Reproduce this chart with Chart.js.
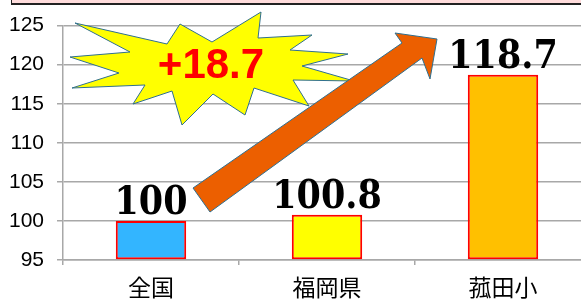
<!DOCTYPE html>
<html>
<head>
<meta charset="utf-8">
<script src="https://cdn.jsdelivr.net/npm/chart.js@4.4.0/dist/chart.umd.min.js"></script>
<style>
    html, body { margin: 0; padding: 0; background: #fff; overflow: hidden; width: 581px; height: 299px; }
    #wrap { position: relative; width: 581px; height: 299px; overflow: hidden; }
    #topbox { position: absolute; left: 11px; top: -4px; width: 600px; height: 7px; background: #ffdcdc; border-left: 1px solid #222; border-bottom: 2px solid #222; }
    canvas { position: absolute; left: 0; top: 0; }
</style>
</head>
<body>
<div id="wrap">
    <canvas id="chart" width="591" height="299"></canvas>
    <div id="topbox"></div>
</div>
<script>
const categories = ['全国', '福岡県', '菰田小'];
const scores = [100, 100.8, 118.7];
const scoreLabels = ['100', '100.8', '118.7'];
const barColors = ['#33b5ff', '#ffff00', '#ffc000'];
const yTicks = [95, 100, 105, 110, 115, 120, 125];
const gainText = '+18.7';

// callout shapes (decoration, pixel outline)
const starPts = [[75,23],[167,44],[180,24],[212,42],[261,12],[258,38],[312,35],[290,50],[348,54],
    [302,66],[354,81],[293,80],[309,106],[254,88],[245,115],[213,94],[182,125],[172,91],[133,104],
    [145,85],[72,88],[119,73],[70,57],[130,52]];
const arrowPts = [[193,188],[402,43],[395,33],[437,39],[430,79],[422,58],[210,212]];

function poly(ctx, pts, fill) {
    ctx.beginPath();
    pts.forEach((p, i) => i ? ctx.lineTo(p[0], p[1]) : ctx.moveTo(p[0], p[1]));
    ctx.closePath();
    ctx.fillStyle = fill;
    ctx.fill();
    ctx.lineWidth = 1;
    ctx.strokeStyle = '#2f6f8f';
    ctx.stroke();
}

const decoPlugin = {
    id: 'deco',
    afterDatasetsDraw: function(chart) {
        const ctx = chart.ctx;
        ctx.save();
        poly(ctx, starPts, '#ffff00');
        ctx.fillStyle = '#ff0000';
        ctx.font = 'bold 42px "Liberation Sans", Arial, sans-serif';
        ctx.textAlign = 'center';
        ctx.textBaseline = 'middle';
        ctx.fillText(gainText, 211, 66);
        poly(ctx, arrowPts, '#ec5f00');

        // value labels above bars, a bit taller like the original font
        const meta = chart.getDatasetMeta(0);
        ctx.fillStyle = '#000';
        ctx.font = 'bold 35px "DejaVu Serif", serif';
        ctx.textBaseline = 'alphabetic';
        meta.data.forEach((bar, i) => {
            ctx.save();
            ctx.translate(bar.x, bar.y - 7);
            ctx.scale(1, 1.12);
            ctx.fillText(scoreLabels[i], 0, 0);
            ctx.restore();
        });
        ctx.restore();
    }
};

new Chart(document.getElementById('chart'), {
    type: 'bar',
    data: {
        labels: categories,
        datasets: [{
            data: scores,
            base: yTicks[0],
            backgroundColor: barColors,
            borderColor: '#ff0000',
            borderWidth: 2,
            borderSkipped: false,
            barPercentage: 0.4,
            categoryPercentage: 1
        }]
    },
    options: {
        responsive: false,
        animation: false,
        layout: { padding: { top: 23.5, left: 0, right: 0, bottom: 0 } },
        plugins: { legend: { display: false }, tooltip: { enabled: false } },
        scales: {
            x: {
                afterFit: s => { s.height = 39; },
                grid: { drawOnChartArea: false, tickLength: 5, color: '#a8a8a8', lineWidth: 1.5 },
                border: { color: '#a8a8a8', width: 1.5 },
                ticks: { color: '#000', padding: 8, font: { family: '"Noto Sans CJK JP", sans-serif', size: 23 } }
            },
            y: {
                min: yTicks[0],
                max: yTicks[yTicks.length - 1],
                afterFit: s => { s.width = 63; },
                afterBuildTicks: s => { s.ticks = yTicks.map(v => ({ value: v })); },
                grid: { color: '#a8a8a8', lineWidth: 1.5, tickLength: 6 },
                border: { color: '#a8a8a8', width: 1.5 },
                ticks: { color: '#000', padding: 13, font: { family: '"Liberation Sans", Arial, sans-serif', size: 21 } }
            }
        }
    },
    plugins: [decoPlugin]
});
</script>
</body>
</html>
